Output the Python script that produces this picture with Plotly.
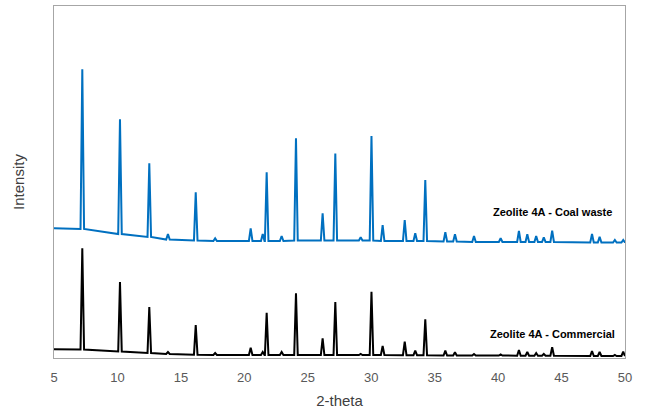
import plotly.graph_objects as go

# Peak positions (2-theta, degrees) shared by both patterns
peak_2theta = [7.23, 10.20, 12.51, 13.98, 16.17, 17.70, 20.50, 21.45, 21.76, 22.94,
               24.07, 26.17, 27.17, 29.17, 30.02, 30.90, 32.64, 33.47, 34.26, 35.84,
               36.60, 38.10, 40.20, 41.64, 42.30, 43.00, 43.60, 44.26, 47.40, 48.00,
               49.20, 49.86]

# Zeolite 4A - Commercial (black): peak tops and local baseline (arbitrary units)
comm_top = [109.7, 76.0, 51.0, 6.0, 33.0, 5.0, 10.3, 6.0, 45.3, 6.0,
            64.7, 19.7, 56.0, 4.0, 66.3, 12.0, 16.3, 7.3, 38.7, 7.3,
            5.7, 4.0, 3.5, 8.0, 6.0, 5.0, 4.0, 10.7, 7.0, 6.0,
            3.0, 6.3]
comm_base = [8.5, 6.5, 5.0, 4.0, 3.3, 3.0, 3.0, 3.0, 3.0, 3.0,
             3.0, 3.0, 3.0, 3.0, 3.0, 3.0, 2.8, 2.8, 2.8, 2.5,
             2.5, 2.5, 2.5, 2.3, 2.3, 2.3, 2.3, 2.3, 2.0, 2.0,
             2.0, 2.0]
comm_ends = [8.7, 2.0]

# Zeolite 4A - Coal waste (blue): peak tops and local baseline (arbitrary units)
coal_top = [288.7, 238.7, 194.7, 124.0, 165.7, 119.7, 129.7, 124.0, 185.7, 122.0,
            219.7, 144.7, 204.5, 120.7, 222.0, 133.0, 138.0, 124.7, 178.0, 125.7,
            123.7, 122.0, 119.7, 127.0, 123.7, 122.0, 120.7, 127.3, 124.0, 121.3,
            118.0, 118.0]
coal_base = [129.0, 124.0, 121.0, 118.5, 117.5, 117.0, 117.0, 117.0, 117.0, 117.0,
             117.5, 117.5, 117.5, 117.5, 117.5, 117.0, 117.0, 117.0, 117.0, 116.5,
             116.5, 116.0, 116.0, 116.0, 116.0, 116.0, 116.0, 116.0, 115.5, 115.5,
             115.5, 115.5]
coal_ends = [129.7, 115.0]

x_ticks = [5, 10, 15, 20, 25, 30, 35, 40, 45, 50]

HW = 0.14  # half width of a peak foot


def pattern(tops, bases, ends):
    xs, ys = [5.0], [ends[0]]
    for p, t, b in zip(peak_2theta, tops, bases):
        xs += [p - HW, p, p + HW]
        ys += [b, t, b]
    xs.append(50.0)
    ys.append(ends[1])
    return xs, ys


cx, cy = pattern(coal_top, coal_base, coal_ends)
kx, ky = pattern(comm_top, comm_base, comm_ends)

fig = go.Figure()
fig.add_trace(go.Scatter(x=cx, y=cy, mode="lines", line=dict(color="#0070C0", width=2),
                         name="Zeolite 4A - Coal waste", hoverinfo="skip"))
fig.add_trace(go.Scatter(x=kx, y=ky, mode="lines", line=dict(color="#000000", width=2),
                         name="Zeolite 4A - Commercial", hoverinfo="skip"))

ann_font = dict(family="Liberation Sans", size=11, color="#000000")
fig.add_annotation(x=44.3, y=146, xref="x", yref="y", text="<b>Zeolite 4A - Coal waste</b>",
                   showarrow=False, font=ann_font)
fig.add_annotation(x=44.3, y=24, xref="x", yref="y", text="<b>Zeolite 4A - Commercial</b>",
                   showarrow=False, font=ann_font)

fig.update_layout(
    width=645, height=412,
    margin=dict(l=54, r=20, t=6, b=54),
    paper_bgcolor="white", plot_bgcolor="white",
    showlegend=False,
    font=dict(family="Liberation Sans", color="#404040"),
)
fig.update_xaxes(range=[5, 50], tickvals=x_ticks, ticktext=[str(v) for v in x_ticks],
                 showgrid=False, zeroline=False, showline=True, mirror=True,
                 linecolor="#A6A6A6", linewidth=1,
                 ticks="outside", ticklen=7, tickcolor="rgba(0,0,0,0)",
                 tickfont=dict(size=13, color="#595959"),
                 title=dict(text="2-theta", font=dict(size=15, color="#404040"), standoff=11))
fig.update_yaxes(range=[0, 352], showticklabels=False, showgrid=False, zeroline=False,
                 showline=True, mirror=True, linecolor="#A6A6A6", linewidth=1, ticks="",
                 title=dict(text="Intensity", font=dict(size=15, color="#404040"), standoff=24))

fig.write_html("out.html", config={"displayModeBar": False},
               post_script="document.body.style.margin='0px';")
